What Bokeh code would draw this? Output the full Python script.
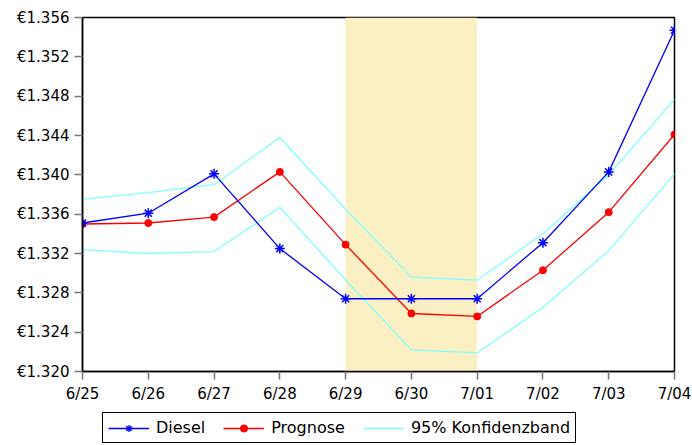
from bokeh.plotting import figure
from bokeh.layouts import column
from bokeh.models import (BoxAnnotation, FixedTicker, PrintfTickFormatter,
                          Legend, Range1d)
from bokeh.embed import file_html
from bokeh.resources import INLINE

# Daily diesel price, forecast and 95% confidence band
dates = ["6/25", "6/26", "6/27", "6/28", "6/29", "6/30", "7/01", "7/02", "7/03", "7/04"]
diesel = [1.3351, 1.3361, 1.3401, 1.3325, 1.3274, 1.3274, 1.3274, 1.3331, 1.3403, 1.3547]
prognose = [1.3350, 1.3351, 1.3357, 1.3403, 1.3329, 1.3259, 1.3256, 1.3303, 1.3362, 1.3441]
band_upper = [1.3375, 1.3382, 1.3390, 1.3438, 1.3365, 1.3296, 1.3293, 1.3340, 1.3400, 1.3477]
band_lower = [1.3324, 1.3320, 1.3322, 1.3367, 1.3293, 1.3222, 1.3219, 1.3265, 1.3323, 1.3401]
y_ticks = [1.320, 1.324, 1.328, 1.332, 1.336, 1.340, 1.344, 1.348, 1.352, 1.356]
shade_from, shade_to = "6/29", "7/01"

FONT = "DejaVu Sans"
BLUE, RED, CYAN = "#0000FF", "#FF0000", "#80FFFF"
x = list(range(len(dates)))

p = figure(width=692, height=410, output_backend="svg", toolbar_location=None,
           x_range=Range1d(0, len(dates) - 1), y_range=Range1d(y_ticks[0], y_ticks[-1]),
           min_border_left=82, min_border_right=18, min_border_top=17,
           min_border_bottom=39)
p.background_fill_color = "white"
p.border_fill_color = "white"
p.outline_line_color = "black"
p.outline_line_width = 1.5
p.xgrid.visible = False
p.ygrid.visible = False

# shaded forecast window
p.add_layout(BoxAnnotation(left=dates.index(shade_from), right=dates.index(shade_to),
                           fill_color="#FBF0C4", fill_alpha=1.0, line_color=None,
                           level="underlay"))

p.line(x, band_upper, line_color=CYAN, line_width=1.3)
p.line(x, band_lower, line_color=CYAN, line_width=1.3)
p.line(x, prognose, line_color=RED, line_width=1.3)
p.scatter(x, prognose, marker="circle", size=7, fill_color=RED, line_color=RED)
p.line(x, diesel, line_color=BLUE, line_width=1.3)
p.scatter(x, diesel, marker="asterisk", size=10, line_color=BLUE, line_width=1.5)

# axes
p.xaxis.ticker = FixedTicker(ticks=x)
p.xaxis.major_label_overrides = {i: d for i, d in enumerate(dates)}
p.yaxis.ticker = FixedTicker(ticks=y_ticks)
p.yaxis.formatter = PrintfTickFormatter(format="€%.3f")
for ax in (p.xaxis[0], p.yaxis[0]):
    ax.axis_line_color = "black"
    ax.axis_line_width = 1.5
    ax.major_tick_line_color = "#777777"
    ax.major_tick_line_width = 1.5
    ax.major_tick_out = 8
    ax.major_tick_in = 0
    ax.minor_tick_line_color = None
    ax.major_label_text_font = FONT
    ax.major_label_text_font_size = "15px"
    ax.major_label_text_color = "black"
    ax.major_label_standoff = 5

# legend strip under the chart; its sample glyphs sit outside the visible range
lg = figure(width=692, height=35, output_backend="svg", toolbar_location=None,
            x_range=Range1d(0, 1), y_range=Range1d(0, 1),
            x_axis_location=None, y_axis_location=None,
            min_border=0, outline_line_color=None)
lg.grid.visible = False
lg.border_fill_color = "white"
off = [-5]
ld = lg.line(off, off, line_color=BLUE, line_width=1.3)
sd = lg.scatter(off, off, marker="asterisk", size=7, line_color=BLUE, line_width=1.3)
lp = lg.line(off, off, line_color=RED, line_width=1.3)
sp = lg.scatter(off, off, marker="circle", size=5, fill_color=RED, line_color=RED)
lu = lg.line(off, off, line_color=CYAN, line_width=1.3)

legend = Legend(items=[("Diesel", [ld, sd]), ("Prognose", [lp, sp]),
                       ("95% Konfidenzband", [lu])],
                orientation="horizontal", location=(20, 2))
legend.label_text_font = FONT
legend.label_text_font_size = "16px"
legend.label_text_color = "black"
legend.border_line_color = "black"
legend.border_line_alpha = 1.0
legend.border_line_width = 1.2
legend.background_fill_alpha = 1.0
legend.glyph_width = 41
legend.glyph_height = 18
legend.label_height = 18
legend.label_standoff = 7
legend.spacing = 18
legend.padding = 5
legend.margin = 0
lg.add_layout(legend, "center")

open("out.html", "w").write(file_html(column(p, lg, spacing=0), INLINE))
